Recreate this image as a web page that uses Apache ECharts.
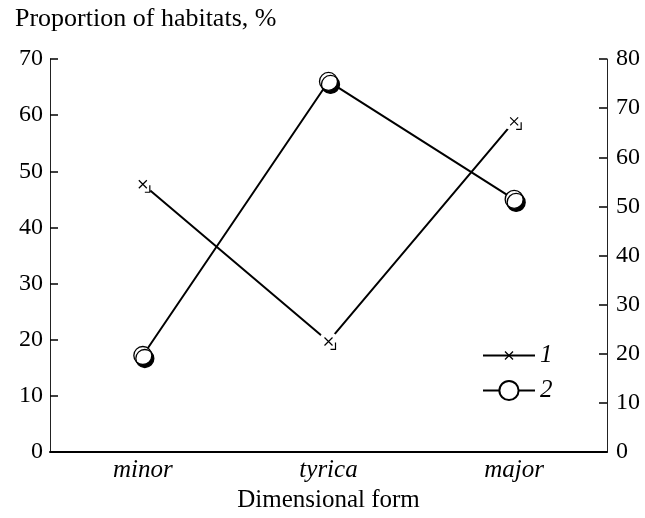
<!DOCTYPE html>
<html>
<head>
<meta charset="UTF-8">
<script src="https://cdn.jsdelivr.net/npm/echarts@6/dist/echarts.min.js"></script>
<style>
  html, body { margin: 0; padding: 0; background: #fff; }
  #chart { width: 645px; height: 518px; }
</style>
</head>
<body>
<div id="chart"></div>
<script>
// data
const categories = ['minor', 'tyrica', 'major'];
const series1 = [47.7, 19.7, 58.9];   // line with crosses
const series2 = [17.2, 66, 45];       // line with circles
const leftTicks = { min: 0, max: 70, step: 10 };
const rightTicks = { min: 0, max: 80, step: 10 };

const FONT = '"Liberation Serif", "DejaVu Serif", serif';

// cross marker: white patch so the line stops short, x plus small corner
const crossSvg =
  '<svg xmlns="http://www.w3.org/2000/svg" width="26" height="26" viewBox="0 0 26 26">' +
  '<circle cx="13" cy="13" r="10" fill="#fff"/>' +
  '<path d="M9,9L17,17M17,9L9,17M20,14L20,21L15,21" stroke="#000" stroke-width="1.2" fill="none"/>' +
  '</svg>';
const crossSymbol = 'image://data:image/svg+xml;utf8,' + encodeURIComponent(crossSvg);

// legend icon for series 1: line with a small x on it
const crossLegendSvg =
  '<svg xmlns="http://www.w3.org/2000/svg" width="52" height="24" viewBox="0 0 52 24">' +
  '<path d="M0,12L52,12" stroke="#000" stroke-width="2.2"/>' +
  '<path d="M22,8L30,16M30,8L22,16" stroke="#000" stroke-width="1.3"/>' +
  '</svg>';
const crossLegendIcon = 'image://data:image/svg+xml;utf8,' + encodeURIComponent(crossLegendSvg);

const chart = echarts.init(document.getElementById('chart'), null, { renderer: 'canvas' });

chart.setOption({
  animation: false,
  backgroundColor: '#fff',
  textStyle: { fontFamily: FONT, color: '#000' },
  title: {
    text: 'Proportion of habitats, %',
    left: 10, top: 1,
    textStyle: { fontFamily: FONT, fontSize: 26, fontWeight: 'normal', color: '#000' }
  },
  legend: {
    orient: 'vertical',
    left: 477, top: 338,
    itemWidth: 52, itemHeight: 24, itemGap: 10,
    textStyle: { fontFamily: FONT, fontSize: 25, fontStyle: 'italic', color: '#000' },
    data: [{ name: '1', icon: crossLegendIcon }, { name: '2' }]
  },
  grid: { left: 50, right: 38, top: 59, bottom: 64 },
  xAxis: {
    type: 'category',
    data: categories,
    boundaryGap: true,
    name: 'Dimensional form',
    nameLocation: 'middle',
    nameGap: 24,
    nameTextStyle: { fontFamily: FONT, fontSize: 25, color: '#000' },
    axisLine: { lineStyle: { color: '#000', width: 2 } },
    axisTick: { inside: true, length: 7, lineStyle: { color: '#000' } },
    axisLabel: { fontFamily: FONT, fontSize: 25, fontStyle: 'italic', color: '#000', margin: 6 },
    splitLine: { show: false }
  },
  yAxis: [
    {
      type: 'value', position: 'left',
      min: leftTicks.min, max: leftTicks.max, interval: leftTicks.step,
      axisLine: { show: true, lineStyle: { color: '#222', width: 1 } },
      axisTick: { show: true, inside: true, length: 8, lineStyle: { color: '#000', width: 1.5 } },
      axisLabel: { fontFamily: FONT, fontSize: 24, color: '#000', margin: 7 },
      splitLine: { show: false }
    },
    {
      type: 'value', position: 'right',
      min: rightTicks.min, max: rightTicks.max, interval: rightTicks.step,
      axisLine: { show: true, lineStyle: { color: '#222', width: 1 } },
      axisTick: { show: true, inside: true, length: 8, lineStyle: { color: '#000', width: 1.5 } },
      axisLabel: { fontFamily: FONT, fontSize: 24, color: '#000', margin: 9 },
      splitLine: { show: false }
    }
  ],
  series: [
    {
      name: '1', type: 'line', yAxisIndex: 0,
      data: series1,
      symbol: crossSymbol, symbolSize: 26,
      lineStyle: { color: '#000', width: 2 },
      itemStyle: { color: '#000' },
      z: 3
    },
    {
      name: '2', type: 'line', yAxisIndex: 0,
      data: series2,
      symbol: 'circle', symbolSize: 18,
      lineStyle: { color: '#000', width: 2 },
      itemStyle: {
        color: '#fff', borderColor: '#000', borderWidth: 1.3,
        shadowColor: '#000', shadowBlur: 0, shadowOffsetX: 2, shadowOffsetY: 3
      },
      z: 4
    }
  ]
});
</script>
</body>
</html>
